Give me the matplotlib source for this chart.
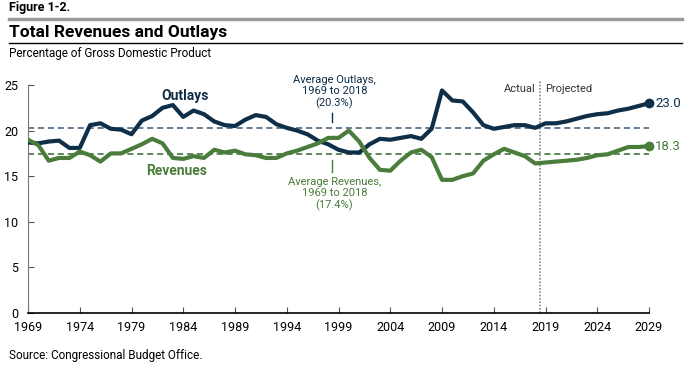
import matplotlib.pyplot as plt
from matplotlib.lines import Line2D

plt.rcParams['font.family'] = ['Roboto', 'DejaVu Sans']

# Data (percentage of GDP)
years = list(range(1969, 2030))
outlays = [18.7, 18.6, 18.8, 18.9, 18.1, 18.1, 20.6, 20.8, 20.2, 20.1,
           19.6, 21.1, 21.6, 22.5, 22.8, 21.5, 22.2, 21.8, 21.0, 20.6,
           20.5, 21.2, 21.7, 21.5, 20.7, 20.3, 20.0, 19.6, 18.9, 18.5,
           17.9, 17.6, 17.6, 18.5, 19.1, 19.0, 19.2, 19.4, 19.1, 20.2,
           24.4, 23.3, 23.2, 22.0, 20.6, 20.2, 20.4, 20.6, 20.6, 20.3,
           20.8, 20.8, 21.0, 21.3, 21.6, 21.8, 21.9, 22.2, 22.4, 22.7, 23.0]
revenues = [19.0, 18.4, 16.7, 17.0, 17.0, 17.7, 17.3, 16.6, 17.5, 17.5,
            18.0, 18.5, 19.1, 18.6, 17.0, 16.9, 17.2, 17.0, 17.9, 17.6,
            17.8, 17.4, 17.3, 17.0, 17.0, 17.5, 17.8, 18.2, 18.6, 19.2,
            19.2, 20.0, 18.8, 17.0, 15.7, 15.6, 16.7, 17.6, 17.9, 17.1,
            14.6, 14.6, 15.0, 15.3, 16.7, 17.4, 18.0, 17.6, 17.2, 16.4,
            16.5, 16.6, 16.7, 16.8, 17.0, 17.3, 17.4, 17.8, 18.2, 18.2, 18.3]
avg_outlays = 20.3
avg_revenues = 17.4
xticks = list(range(1969, 2030, 5))
yticks = [0, 5, 10, 15, 20, 25]

navy = "#0f2e48"
green = "#4a7d3b"
dash_navy = "#3c5870"
dash_green = "#2f6a2c"

fig = plt.figure(figsize=(6.92, 3.69), dpi=100)
ax = fig.add_axes([28/692, 56/369, 621/692, 228/369])

ax.axhline(avg_outlays, color=dash_navy, lw=1.1, ls=(0, (4, 2.5)))
ax.axhline(avg_revenues, color=dash_green, lw=1.1, ls=(0, (4, 2.5)))
ax.plot(years, outlays, color=navy, lw=3, solid_joinstyle="round", zorder=3)
ax.plot(years, revenues, color=green, lw=3, solid_joinstyle="round", zorder=3)
ax.plot(years[-1], outlays[-1], "o", color=navy, ms=6, zorder=4, clip_on=False)
ax.plot(years[-1], revenues[-1], "o", color=green, ms=6, zorder=4, clip_on=False)

ax.set_xlim(1969, 2029)
ax.set_ylim(0, 25)
ax.set_xticks(xticks)
ax.set_yticks(yticks)
ax.tick_params(axis="both", direction="in", length=4, labelsize=9, color="#555555")
ax.tick_params(axis="y", pad=7)
ax.tick_params(axis="x", pad=6)
for s in ["top", "right"]:
    ax.spines[s].set_visible(False)
ax.spines["left"].set_color("#777777")
ax.spines["bottom"].set_color("black")
ax.spines["bottom"].set_linewidth(1.2)

# actual / projected divider
ax.add_line(Line2D([2018.5, 2018.5], [0, 25.4], color="#888888", lw=1.2,
                   ls=(0, (1, 1)), clip_on=False))
ax.text(2018.0, 24.6, "Actual", ha="right", va="center", fontsize=8, color="#333333")
ax.text(2019.0, 24.6, "Projected", ha="left", va="center", fontsize=8, color="#333333")

# series labels
ax.text(1984.2, 23.8, "Outlays", ha="center", va="center", fontsize=10,
        fontweight="bold", color=navy)
ax.text(1983.4, 15.6, "Revenues", ha="center", va="center", fontsize=10,
        fontweight="bold", color=green)
ax.text(2029.6, outlays[-1], "23.0", ha="left", va="center", fontsize=9.5, color=navy)
ax.text(2029.6, revenues[-1], "18.3", ha="left", va="center", fontsize=9.5, color=green)

# average annotations
ax.text(1998.6, 22.4, "Average Outlays,\n1969 to 2018\n(20.3%)", ha="center", va="bottom",
        fontsize=8, color=navy, linespacing=1.15)
ax.add_line(Line2D([1998.4, 1998.4], [21.9, 20.9], color=navy, lw=1))
ax.text(1998.6, 14.9, "Average Revenues,\n1969 to 2018\n(17.4%)", ha="center", va="top",
        fontsize=8, color=green, linespacing=1.15)
ax.add_line(Line2D([1998.4, 1998.4], [16.8, 15.5], color=green, lw=1))

# header
fig.text(9/692, 1 - 8/369, "Figure 1-2.", ha="left", va="center", fontsize=9,
         fontweight="bold")
fig.add_artist(Line2D([9/692, 682/692], [1 - 19/369, 1 - 19/369], color="#999999", lw=2.5))
fig.text(9/692, 1 - 32/369, "Total Revenues and Outlays", ha="left", va="center",
         fontsize=12.5, fontweight="bold")
fig.add_artist(Line2D([9/692, 682/692], [1 - 43/369, 1 - 43/369], color="black", lw=1))
fig.text(9/692, 1 - 54/369, "Percentage of Gross Domestic Product", ha="left",
         va="center", fontsize=8.5)
fig.text(9/692, 1 - 356/369, "Source: Congressional Budget Office.", ha="left",
         va="center", fontsize=8.5)

fig.savefig("out.png", dpi=100)
